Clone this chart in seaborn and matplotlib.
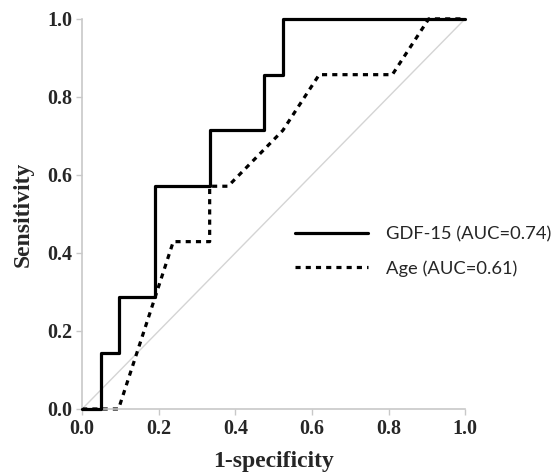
import pandas as pd
import matplotlib.pyplot as plt
import seaborn as sns

# ROC points (21 negatives, 7 positives)
gdf15_fpr = [0.0, 0.048, 0.048, 0.095, 0.095, 0.190, 0.190, 0.333, 0.333, 0.476, 0.476, 0.524, 0.524, 1.0]
gdf15_tpr = [0.0, 0.0, 0.143, 0.143, 0.286, 0.286, 0.571, 0.571, 0.714, 0.714, 0.857, 0.857, 1.0, 1.0]

age_fpr = [0.0, 0.095, 0.238, 0.333, 0.333, 0.381, 0.524, 0.619, 0.810, 0.905, 1.0]
age_tpr = [0.0, 0.0, 0.429, 0.429, 0.571, 0.571, 0.714, 0.857, 0.857, 1.0, 1.0]

labels = ['GDF-15 (AUC=0.74)', 'Age (AUC=0.61)']
ticks = [0.0, 0.2, 0.4, 0.6, 0.8, 1.0]

sns.set_style('white')
plt.rcParams['font.family'] = ['Liberation Serif', 'DejaVu Serif']

fig = plt.figure(figsize=(5.55, 4.72), dpi=100)
ax = fig.add_axes([0.148, 0.1335, 0.690, 0.8265])

# chance line
ax.plot([0, 1], [0, 1], color='#d4d4d4', lw=1.0, zorder=1)

df_g = pd.DataFrame({'fpr': gdf15_fpr, 'tpr': gdf15_tpr})
df_a = pd.DataFrame({'fpr': age_fpr, 'tpr': age_tpr})

sns.lineplot(data=df_g, x='fpr', y='tpr', sort=False, estimator=None, ax=ax,
             color='black', lw=2.3, label=labels[0], clip_on=False, zorder=3)
sns.lineplot(data=df_a, x='fpr', y='tpr', sort=False, estimator=None, ax=ax,
             color='black', lw=2.3, linestyle=(0, (1.6, 1.6)), label=labels[1],
             clip_on=False, zorder=2)

ax.set_xlim(0, 1)
ax.set_ylim(0, 1)
ax.set_xticks(ticks)
ax.set_yticks(ticks)
ax.set_xticklabels([f'{t:.1f}' for t in ticks], fontweight='bold', fontsize=14.5)
ax.set_yticklabels([f'{t:.1f}' for t in ticks], fontweight='bold', fontsize=14.5)
ax.tick_params(axis='both', length=4, width=1, color='#c8c8c8', pad=3, direction='out')
ax.tick_params(axis='x', bottom=True)
ax.tick_params(axis='y', left=True)

for s in ['top', 'right']:
    ax.spines[s].set_visible(False)
for s in ['left', 'bottom']:
    ax.spines[s].set_color('#c8c8c8')
    ax.spines[s].set_linewidth(1.2)

ax.set_xlabel('1-specificity', fontweight='bold', fontsize=17, labelpad=9)
ax.set_ylabel('Sensitivity', fontweight='bold', fontsize=17, labelpad=9.5)

leg = ax.legend(loc='upper left', bbox_to_anchor=(0.512, 0.51), frameon=False,
                handlelength=4.0, handletextpad=1.0, labelspacing=0.95,
                prop={'family': 'Lato', 'size': 13.2})

fig.savefig('out.png', dpi=100)
plt.close(fig)
